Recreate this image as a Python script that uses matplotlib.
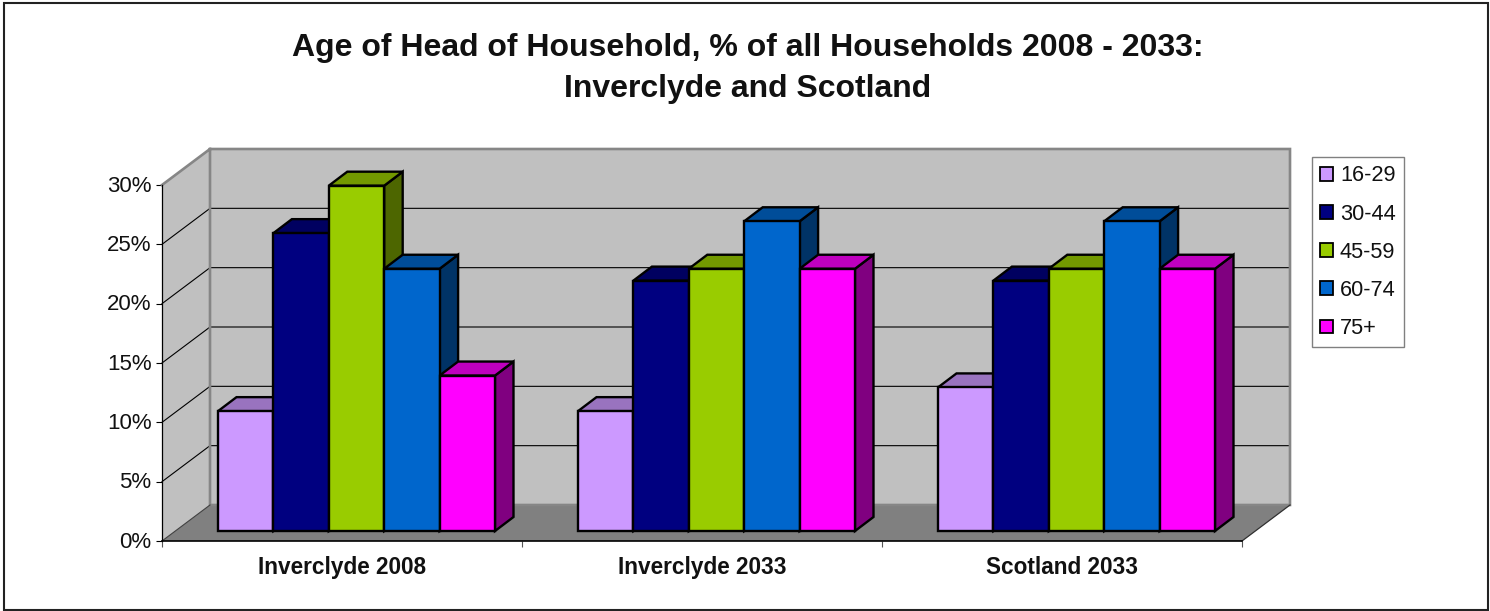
import matplotlib
matplotlib.use("Agg")
import matplotlib.pyplot as plt
from matplotlib.colors import to_rgb
from matplotlib.patches import Patch, Polygon, Rectangle
from matplotlib.transforms import ScaledTranslation

plt.rcParams['font.family'] = ['Liberation Sans', 'DejaVu Sans']

# data
places = ["Inverclyde 2008", "Inverclyde 2033", "Scotland 2033"]
ages = ["16-29", "30-44", "45-59", "60-74", "75+"]
age_16_29 = [10.1, 10.1, 12.1]
age_30_44 = [25.1, 21.1, 21.1]
age_45_59 = [29.1, 22.1, 22.1]
age_60_74 = [22.1, 26.1, 26.1]
age_75_up = [13.1, 22.1, 22.1]
series = [age_16_29, age_30_44, age_45_59, age_60_74, age_75_up]
colours = ["#CC99FF", "#000080", "#99CC00", "#0066CC", "#FF00FF"]
y_ticks = [0, 5, 10, 15, 20, 25, 30]

W, H = 1490, 611
fig = plt.figure(figsize=(W/100, H/100), dpi=100)
fig.patch.set_facecolor("white")

# axes = the front plane of the fake 3d box, pixels from the reference
left, right, top, bottom = 162, 1242, 185, 541
ax = fig.add_axes([left/W, 1-bottom/H, (right-left)/W, (bottom-top)/H])
ax.set_xlim(0, 3)
ax.set_ylim(0, 30)
ax.patch.set_visible(False)

# depth of the box in data units
px_x = 3/(right-left)
px_y = 30/(bottom-top)
dx = 48*px_x
dy = 36*px_y

def poly(pts, fc, ec="none", lw=0, z=1):
    ax.add_patch(Polygon(pts, closed=True, facecolor=fc, edgecolor=ec, linewidth=lw,
                         zorder=z, clip_on=False, joinstyle="miter"))

# walls and floor
poly([(0, 0), (dx, dy), (dx, 30+dy), (0, 30)], "#C0C0C0", z=1)
poly([(dx, dy), (3+dx, dy), (3+dx, 30+dy), (dx, 30+dy)], "#C0C0C0", z=1)
poly([(0, 0), (3, 0), (3+dx, dy), (dx, dy)], "#808080", z=1.2)

for t in y_ticks[1:-1]:
    ax.plot([0, dx, 3+dx], [t, t+dy, t+dy], color="black", lw=0.8, zorder=1.5, clip_on=False)

grey = "#868686"
ax.plot([0, dx, 3+dx, 3+dx, dx, dx], [30, 30+dy, 30+dy, dy, dy, 30+dy], color=grey, lw=1.9,
        zorder=1.6, clip_on=False, solid_joinstyle="miter")
ax.plot([0, dx], [0, dy], color="#404040", lw=0.8, zorder=1.6, clip_on=False)
ax.plot([3, 3+dx], [0, dy], color="#303030", lw=0.9, zorder=1.6, clip_on=False)

# bars
bar_w = 55.4*px_x
bar_front_x = 13.5*px_x
bar_front_y = 10*px_y
bar_dx = 18.5*px_x
bar_dy = 14*px_y
first = 42.5*px_x

z = 3
for g in range(len(places)):
    for s, vals in enumerate(series):
        c = to_rgb(colours[s])
        x0 = g + first + bar_front_x + s*bar_w
        x1 = x0 + bar_w
        y0 = bar_front_y
        y1 = y0 + vals[g]
        top_c = tuple(v*0.75 for v in c)
        side_c = tuple(v*0.5 for v in c)
        poly([(x1, y0), (x1+bar_dx, y0+bar_dy), (x1+bar_dx, y1+bar_dy), (x1, y1)],
             side_c, "black", 1.7, z)
        poly([(x0, y1), (x1, y1), (x1+bar_dx, y1+bar_dy), (x0+bar_dx, y1+bar_dy)],
             top_c, "black", 1.7, z)
        ax.bar(x0, vals[g], width=bar_w, bottom=y0, align="edge", color=colours[s],
               edgecolor="black", linewidth=1.7, zorder=z, clip_on=False)
        z += 0.01

# axes furniture
ax.spines["top"].set_visible(False)
ax.spines["right"].set_visible(False)
ax.spines["left"].set_linewidth(0.9)
ax.spines["bottom"].set_linewidth(1.2)
ax.set_yticks(y_ticks)
ax.set_yticklabels([str(t) + "%" for t in y_ticks], fontsize=16, color="#111111")
ax.set_xticks([0, 1, 2, 3])
ax.set_xticklabels([])
ax.set_xticks([0.5, 1.5, 2.5], minor=True)
ax.set_xticklabels(places, minor=True, fontsize=16.3, fontweight="bold", color="#111111")
ax.tick_params(axis="y", length=4.5, width=0.8, pad=3)
ax.tick_params(axis="x", which="major", length=4.5, width=0.8, color="#555555")
ax.tick_params(axis="x", which="minor", length=0, pad=11)

# labels sit a little above the ticks in the reference
for lbl in ax.get_yticklabels():
    lbl.set_transform(lbl.get_transform() + ScaledTranslation(0, 1.5/100, fig.dpi_scale_trans))

fig.text(748/W, 1-48/H, "Age of Head of Household, % of all Households 2008 - 2033:",
         ha="center", va="center", fontsize=23, fontweight="bold", color="#111111")
fig.text(748/W, 1-89/H, "Inverclyde and Scotland",
         ha="center", va="center", fontsize=23, fontweight="bold", color="#111111")

# legend
handles = [Patch(facecolor=c, edgecolor="black", linewidth=1.3) for c in colours]
leg = ax.legend(handles, ages, loc="upper left", bbox_to_anchor=(1312/W, 1-157/H),
                bbox_transform=fig.transFigure, fontsize=15.7, frameon=True, fancybox=False,
                borderaxespad=0, borderpad=0.38, labelspacing=0.79, handlelength=0.6,
                handleheight=0.6, handletextpad=0.3, framealpha=1, edgecolor="#808080",
                labelcolor="#111111")
leg.get_frame().set_linewidth(1.0)

# outer chart border
fig.add_artist(Rectangle((4/W, 1/H), 1484/W, 607/H, transform=fig.transFigure,
                         fill=False, edgecolor="#222222", linewidth=1.5))

fig.savefig("out.png", dpi=100)
